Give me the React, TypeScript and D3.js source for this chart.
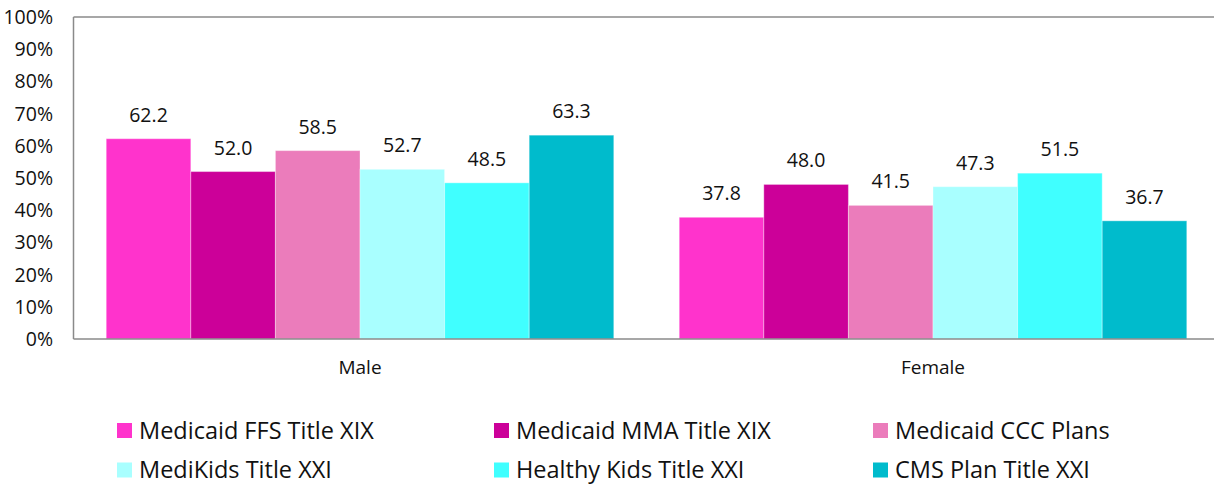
import React from "react";
import * as d3 from "d3";

const categories = ["Male", "Female"];
const seriesNames = [
  "Medicaid FFS Title XIX",
  "Medicaid MMA Title XIX",
  "Medicaid CCC Plans",
  "MediKids Title XXI",
  "Healthy Kids Title XXI",
  "CMS Plan Title XXI",
];
const seriesColors = ["#FF33CC", "#CC0099", "#EB7CBB", "#A9FFFF", "#40FFFF", "#00BBCC"];
const maleValues = [62.2, 52.0, 58.5, 52.7, 48.5, 63.3];
const femaleValues = [37.8, 48.0, 41.5, 47.3, 51.5, 36.7];
const yTicks = [0, 10, 20, 30, 40, 50, 60, 70, 80, 90, 100];

const W = 1214;
const H = 485;
const plotLeft = 73.5;
const plotRight = 1219.5;
const plotTop = 17;
const plotBottom = 339;
const FONT = "'Open Sans', 'Noto Sans', sans-serif";

export default function App() {
  const values = [maleValues, femaleValues];
  const x0 = d3.scaleBand<string>().domain(categories).range([plotLeft, plotRight]).paddingInner(0.1142).paddingOuter(0.0571);
  const x1 = d3.scaleBand<string>().domain(seriesNames).range([0, x0.bandwidth()]).padding(0);
  const y = d3.scaleLinear().domain([0, 100]).range([plotBottom, plotTop]);

  const legendCols = [117, 494, 873];
  const legendRows = [430.5, 470];

  return (
    <svg width={W} height={H} style={{ position: "absolute", left: 0, top: 0, background: "#fff" }} fontFamily={FONT}>
      <rect x={0} y={0} width={W} height={H} fill="#fff" />
      {categories.map((c, ci) =>
        seriesNames.map((s, si) => {
          const v = values[ci][si];
          const bx = (x0(c) as number) + (x1(s) as number);
          return (
            <g key={c + s}>
              <rect x={bx} y={y(v)} width={x1.bandwidth()} height={plotBottom - y(v)} fill={seriesColors[si]} stroke="#ffffff" strokeOpacity={0.35} strokeWidth={1} />
              <text x={bx + x1.bandwidth() / 2} y={y(v) - 17} textAnchor="middle" fontSize={19.5} fill="#111">
                {v.toFixed(1)}
              </text>
            </g>
          );
        })
      )}
      <line x1={plotLeft} x2={plotLeft} y1={plotTop} y2={plotBottom} stroke="#8a8a8a" strokeWidth={1.5} />
      <line x1={plotLeft} x2={W} y1={plotTop} y2={plotTop} stroke="#8a8a8a" strokeWidth={1.5} />
      <line x1={plotLeft} x2={W} y1={plotBottom} y2={plotBottom} stroke="#8a8a8a" strokeWidth={1.5} />
      {yTicks.map((t) => (
        <text key={t} x={53} y={y(t)} dy="0.36em" textAnchor="end" fontSize={19.5} fill="#111">
          {t}%
        </text>
      ))}
      {categories.map((c) => (
        <text key={c} x={(x0(c) as number) + x0.bandwidth() / 2} y={367} dy="0.36em" textAnchor="middle" fontSize={19} fill="#111">
          {c}
        </text>
      ))}
      {seriesNames.map((s, i) => {
        const lx = legendCols[i % 3];
        const ly = legendRows[Math.floor(i / 3)];
        return (
          <g key={s}>
            <rect x={lx} y={ly - 7.5} width={15} height={15} fill={seriesColors[i]} />
            <text x={lx + 22} y={ly} dy="0.36em" fontSize={23.5} fill="#111">
              {s}
            </text>
          </g>
        );
      })}
    </svg>
  );
}
